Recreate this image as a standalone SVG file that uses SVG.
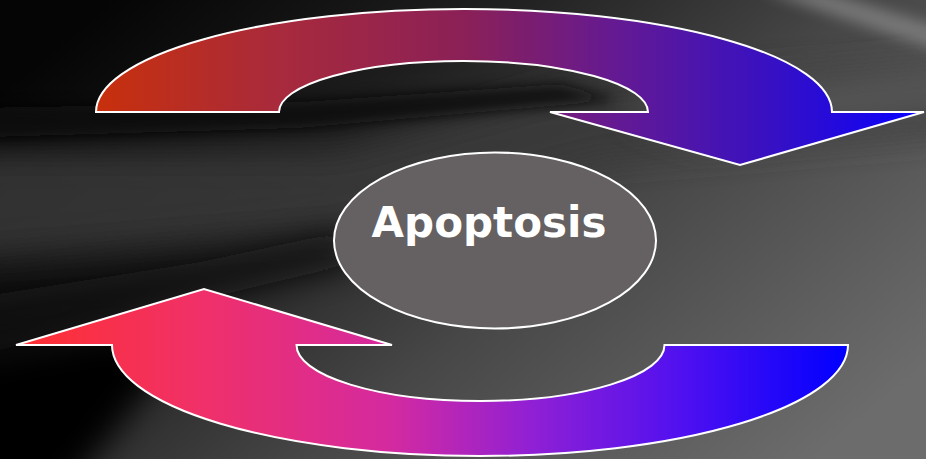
<svg xmlns="http://www.w3.org/2000/svg" width="926" height="459" viewBox="0 0 926 459">
<defs>
<linearGradient id="bg" x1="0" y1="0.2" x2="1" y2="0.8">
<stop offset="0" stop-color="#050505"/>
<stop offset="0.3" stop-color="#1e1e1e"/>
<stop offset="0.6" stop-color="#474747"/>
<stop offset="1" stop-color="#6c6c6c"/>
</linearGradient>
<linearGradient id="gTop" gradientUnits="userSpaceOnUse" x1="96" y1="0" x2="924" y2="0">
<stop offset="0" stop-color="#c8300c"/>
<stop offset="0.22" stop-color="#a82a3c"/>
<stop offset="0.45" stop-color="#8a2058"/>
<stop offset="0.62" stop-color="#661a90"/>
<stop offset="0.82" stop-color="#3610c4"/>
<stop offset="1" stop-color="#0800ff"/>
</linearGradient>
<linearGradient id="gBot" gradientUnits="userSpaceOnUse" x1="16" y1="0" x2="848" y2="0">
<stop offset="0" stop-color="#ff3030"/>
<stop offset="0.22" stop-color="#f03068"/>
<stop offset="0.45" stop-color="#d42aa0"/>
<stop offset="0.62" stop-color="#9020d4"/>
<stop offset="0.8" stop-color="#5010f0"/>
<stop offset="1" stop-color="#0000ff"/>
</linearGradient>
<filter id="blur" x="-30%" y="-80%" width="160%" height="260%"><feGaussianBlur stdDeviation="16"/></filter>
<filter id="blur2" x="-30%" y="-80%" width="160%" height="260%"><feGaussianBlur stdDeviation="7"/></filter>
</defs>
<style>
.arrow{stroke:#ffffff;stroke-width:2;stroke-linejoin:miter}
.node{fill:#656162;stroke:#ffffff;stroke-width:2}
.label{font-family:"DejaVu Sans",Verdana,sans-serif;font-weight:bold;font-size:42px;fill:#ffffff}
</style>
<g id="background">
<rect x="0" y="0" width="926" height="459" fill="url(#bg)"/>
<polygon points="-40,150 340,150 560,90 966,60 966,130 600,160 340,230 -40,260" fill="#3a3a3a" filter="url(#blur)" opacity="0.8"/>
<polygon points="-40,108 300,102 560,84 620,100 300,128 -40,138" fill="#0a0a0a" filter="url(#blur2)" opacity="0.9"/>
<polygon points="-40,300 200,262 340,232 360,262 200,300 -40,360" fill="#0a0a0a" filter="url(#blur)" opacity="0.9"/>
<polygon points="-40,360 120,330 170,360 60,500 -40,500" fill="#000000" filter="url(#blur)"/>
<polygon points="760,-10 820,-10 966,35 966,60" fill="#8a8a8a" filter="url(#blur2)" opacity="0.7"/>
<polygon points="620,110 966,60 966,110 700,140" fill="#5e5e5e" filter="url(#blur)" opacity="0.7"/>
</g>
<g id="connectors">
<path id="arrow-top" class="arrow" fill="url(#gTop)" d="M96,112 A368,103 0 0 1 832,112 L924,112 L740,165 L550,112 L648,112 A184.5,51 0 0 0 279,112 Z"/>
<path id="arrow-bottom" class="arrow" fill="url(#gBot)" d="M848,345 A368,111 0 0 1 112,345 L16,345 L204,289 L392,345 L296.5,345 A184,56 0 0 0 664.5,345 Z"/>
</g>
<g id="apoptosis">
<ellipse class="node" cx="495" cy="240.5" rx="161" ry="88"/>
<text class="label" x="489" y="237" text-anchor="middle">Apoptosis</text>
</g>
</svg>
